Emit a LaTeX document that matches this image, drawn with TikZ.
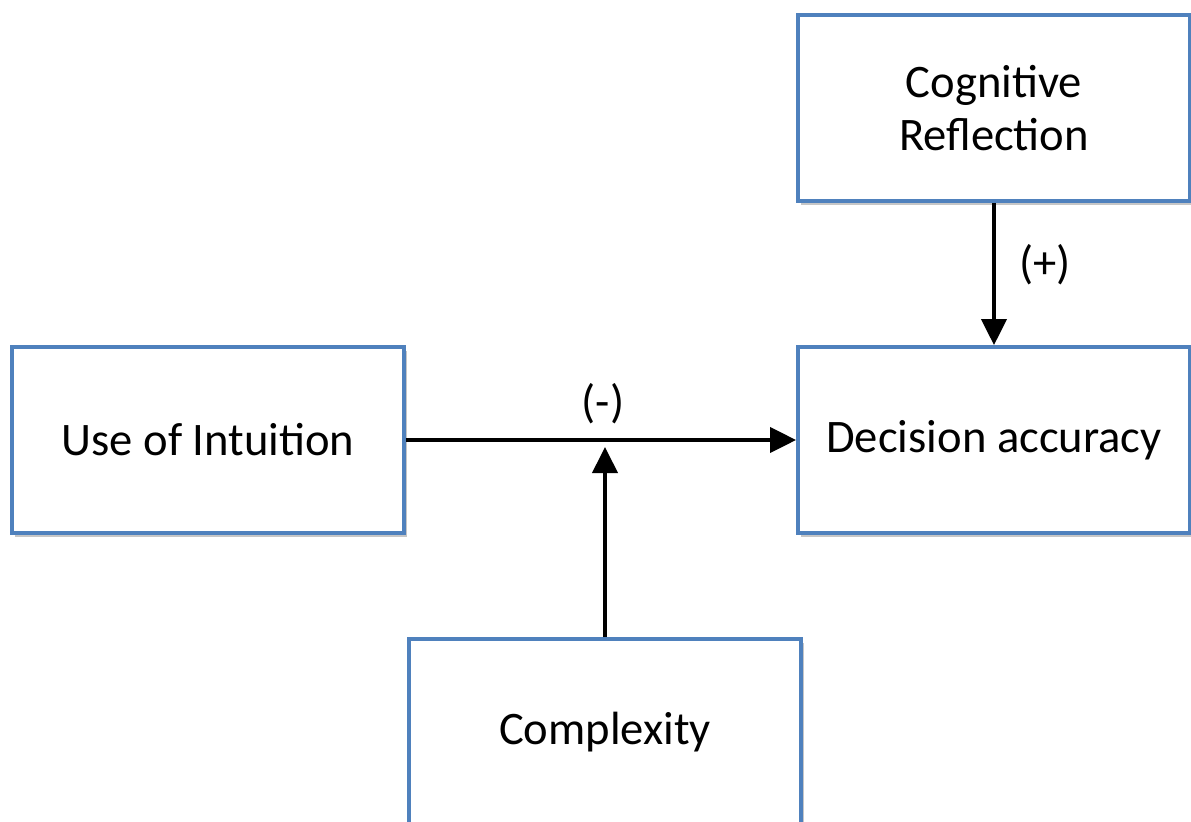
\documentclass[tikz,border=0pt]{standalone}
\usepackage{fontspec}
\setmainfont{Carlito}
\usepackage{tikz}
\usetikzlibrary{arrows.meta,shadows}

\definecolor{boxblue}{HTML}{4F81BD}

\begin{document}
\begin{tikzpicture}[x=0.5pt,y=-0.5pt]
		\tikzstyle{every node}+=[font=\fontsize{23.3}{26.5}\selectfont]
		\tikzstyle{factor}=[draw=boxblue, line width=1.9pt, fill=white, align=center,
			minimum width=196pt, minimum height=93pt, inner sep=0pt,
			drop shadow={opacity=0.45, shadow xshift=1.5pt, shadow yshift=-2pt}]
		\tikzstyle{link}=[line width=2pt, -{Triangle[length=13pt,width=12.5pt]}]
		\useasboundingbox (0,0) rectangle (1191,821);
		\node [factor] (intuition) at (208,440) {Use of Intuition};
		\node [factor] (accuracy) at (994,440) {Decision accuracy};
		\node [factor] (reflection) at (994,108) {Cognitive\\Reflection};
		\node [factor] (complexity) at (605,732) {Complexity};
		\coordinate (join) at (605,447);
		\draw [link] (intuition) -- (accuracy);
		\draw [link] (reflection) -- (accuracy);
		\draw [link] (complexity) -- (join);
		\node (minus) at (603,404) {(-)};
		\node (plus) at (1045,265) {(+)};
	\end{tikzpicture}
\end{document}
